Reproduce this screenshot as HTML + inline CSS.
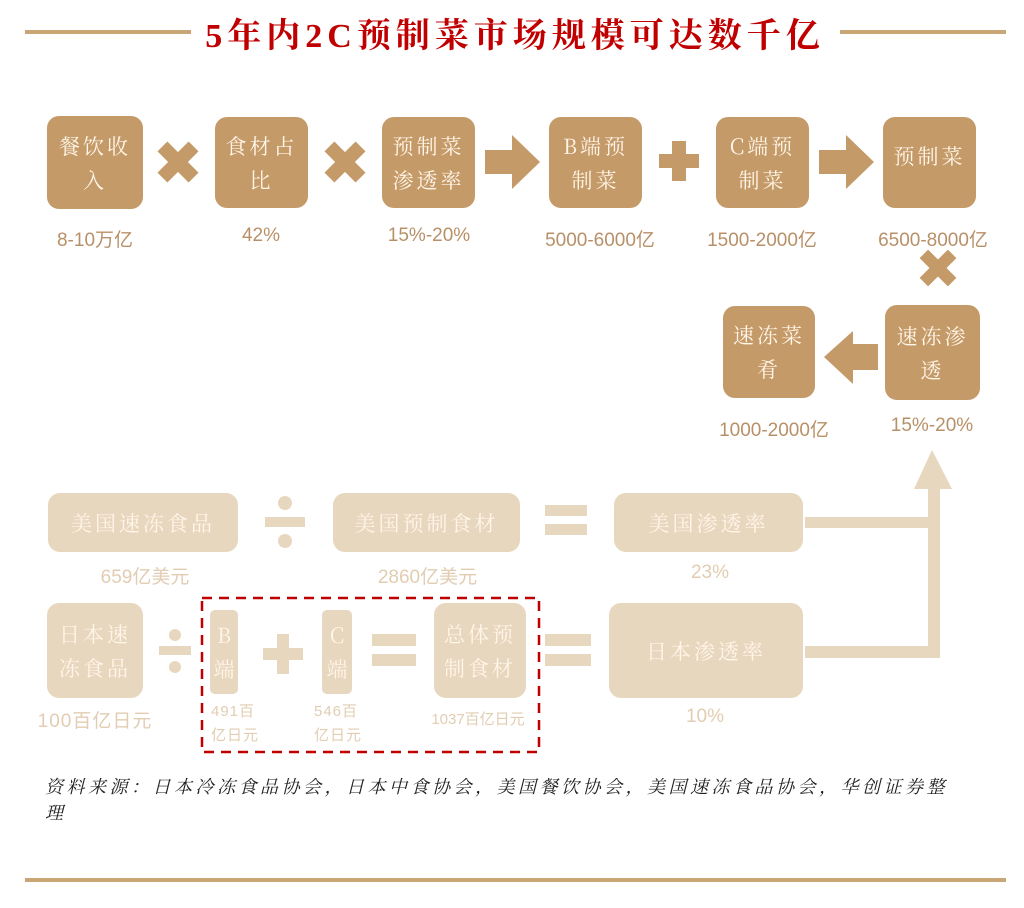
<!DOCTYPE html>
<html><head><meta charset="utf-8"><style>
body{margin:0;width:1024px;height:908px;background:#fff;position:relative;overflow:hidden;font-family:"Liberation Sans","Noto Serif CJK SC",serif;}
.b{position:absolute;border-radius:12px;color:#fff5e8;font-family:"Noto Serif CJK SC",serif;font-size:21px;letter-spacing:3px;display:flex;align-items:center;justify-content:center;text-align:center;line-height:34px;}
.d{background:#c49a68;}
.l{background:#e8d7bf;}
.t{position:absolute;font-size:19px;text-align:center;font-family:"Liberation Sans","Noto Sans CJK SC",sans-serif;}
.td{color:#b89068;}
.tl{color:#e2cdb2;}
svg{position:absolute;left:0;top:0;}
</style></head><body>
<svg width="1024" height="908">
<rect x="25" y="30" width="166" height="4" fill="#c9a676"/>
<rect x="840" y="30" width="166" height="4" fill="#c9a676"/>
<rect x="25" y="878" width="981" height="4" fill="#c9a676"/>
<g fill="#c49a68">
<g transform="translate(178,162) rotate(45)"><rect x="-22" y="-7" width="44" height="14"/><rect x="-7" y="-22" width="14" height="44"/></g>
<g transform="translate(345,162) rotate(45)"><rect x="-22" y="-7" width="44" height="14"/><rect x="-7" y="-22" width="14" height="44"/></g>
<g transform="translate(938,268) rotate(45)"><rect x="-20" y="-6" width="40" height="12"/><rect x="-6" y="-20" width="12" height="40"/></g>
<polygon points="485,150 512,150 512,135 540,162 512,189 512,174 485,174"/>
<polygon points="819,150 846,150 846,135 874,162 846,189 846,174 819,174"/>
<rect x="659" y="154" width="40" height="14"/><rect x="672" y="141" width="14" height="40"/>
<polygon points="878,344 853,344 853,331 824,357 853,384 853,370 878,370"/>
</g>
<g fill="#e8d7bf">
<polygon points="932,450 952,489 914,489"/>
<rect x="928" y="488" width="12" height="170"/>
<rect x="805" y="517" width="135" height="11"/>
<rect x="805" y="646" width="135" height="12"/>
<rect x="265" y="517" width="40" height="10"/><circle cx="285" cy="503" r="7"/><circle cx="285" cy="541" r="7"/>
<rect x="545" y="505" width="42" height="11"/><rect x="545" y="524" width="42" height="11"/>
<rect x="159" y="646" width="32" height="9"/><circle cx="175" cy="635" r="6"/><circle cx="175" cy="667" r="6"/>
<rect x="263" y="648" width="40" height="12"/><rect x="277" y="634" width="12" height="40"/>
<rect x="372" y="634" width="44" height="12"/><rect x="372" y="654" width="44" height="12"/>
<rect x="545" y="634" width="46" height="12"/><rect x="545" y="654" width="46" height="12"/>
</g>
<rect x="202" y="598" width="337" height="154" fill="none" stroke="#c00000" stroke-width="2.5" stroke-dasharray="10,7"/>
</svg>
<div style="position:absolute;left:190px;top:8px;width:650px;text-align:center;color:#c00000;font-family:'Liberation Serif','Noto Serif CJK SC',serif;font-size:34px;font-weight:bold;letter-spacing:5px;white-space:nowrap;">5年内2C预制菜市场规模可达数千亿</div>

<div class="b d" style="left:47px;top:116px;width:96px;height:93px;">餐饮收<br>入</div>
<div class="b d" style="left:215px;top:117px;width:93px;height:91px;">食材占<br>比</div>
<div class="b d" style="left:382px;top:117px;width:93px;height:91px;">预制菜<br>渗透率</div>
<div class="b d" style="left:549px;top:117px;width:93px;height:91px;">B端预<br>制菜</div>
<div class="b d" style="left:716px;top:117px;width:93px;height:91px;">C端预<br>制菜</div>
<div class="b d" style="left:883px;top:117px;width:93px;height:91px;align-items:flex-start;padding-top:22px;box-sizing:border-box;">预制菜</div>
<div class="t td" style="left:25px;top:225px;width:140px;">8-10万亿</div>
<div class="t td" style="left:200px;top:225px;width:122px;">42%</div>
<div class="t td" style="left:358px;top:225px;width:142px;">15%-20%</div>
<div class="t td" style="left:520px;top:225px;width:160px;">5000-6000亿</div>
<div class="t td" style="left:682px;top:225px;width:160px;">1500-2000亿</div>
<div class="t td" style="left:853px;top:225px;width:160px;">6500-8000亿</div>

<div class="b d" style="left:885px;top:305px;width:95px;height:95px;">速冻渗<br>透</div>
<div class="b d" style="left:723px;top:306px;width:92px;height:92px;">速冻菜<br>肴</div>
<div class="t td" style="left:694px;top:415px;width:160px;">1000-2000亿</div>
<div class="t td" style="left:862px;top:415px;width:140px;">15%-20%</div>

<div class="b l" style="left:48px;top:493px;width:190px;height:59px;">美国速冻食品</div>
<div class="b l" style="left:333px;top:493px;width:187px;height:59px;">美国预制食材</div>
<div class="b l" style="left:614px;top:493px;width:189px;height:59px;">美国渗透率</div>
<div class="t tl" style="left:55px;top:562px;width:180px;">659亿美元</div>
<div class="t tl" style="left:340px;top:562px;width:175px;">2860亿美元</div>
<div class="t tl" style="left:630px;top:562px;width:160px;">23%</div>

<div class="b l" style="left:47px;top:603px;width:96px;height:95px;">日本速<br>冻食品</div>
<div class="b l" style="left:210px;top:610px;width:28px;height:84px;border-radius:5px;letter-spacing:0;">B<br>端</div>
<div class="b l" style="left:322px;top:610px;width:30px;height:84px;border-radius:5px;letter-spacing:0;">C<br>端</div>
<div class="b l" style="left:434px;top:603px;width:92px;height:95px;">总体预<br>制食材</div>
<div class="b l" style="left:609px;top:603px;width:194px;height:95px;">日本渗透率</div>
<div class="t tl" style="left:15px;top:706px;width:160px;letter-spacing:1px;">100百亿日元</div>
<div class="t tl" style="left:211px;top:700px;width:70px;font-size:15px;text-align:left;line-height:24px;letter-spacing:1px;">491百<br>亿日元</div>
<div class="t tl" style="left:314px;top:700px;width:70px;font-size:15px;text-align:left;line-height:24px;letter-spacing:1px;">546百<br>亿日元</div>
<div class="t tl" style="left:412px;top:708px;width:132px;font-size:15px;">1037百亿日元</div>
<div class="t tl" style="left:640px;top:706px;width:130px;">10%</div>

<div style="position:absolute;left:45px;top:774px;width:930px;font-size:18px;font-style:italic;color:#222;line-height:26px;font-family:'Liberation Serif','Noto Serif CJK SC',serif;letter-spacing:3.5px;">资料来源：日本冷冻食品协会，日本中食协会，美国餐饮协会，美国速冻食品协会，华创证券整<br>理</div>
</body></html>
